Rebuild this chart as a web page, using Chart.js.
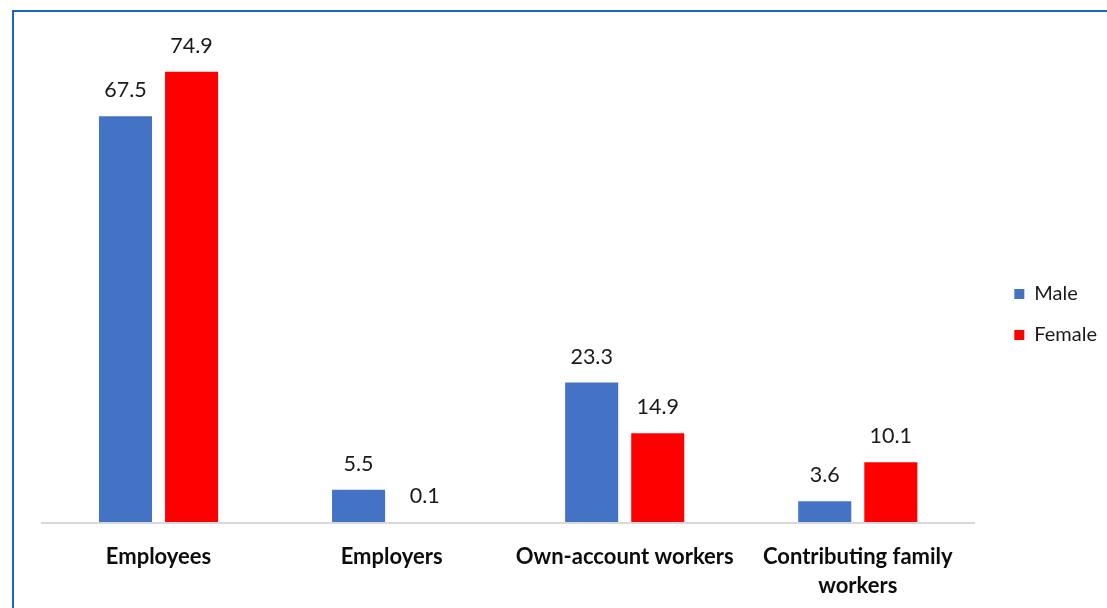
<!DOCTYPE html>
<html>
<head>
<meta charset="utf-8">
<script src="https://cdn.jsdelivr.net/npm/chart.js@4"></script>
<style>
  body { margin: 0; background: #fff; }
  #wrap { position: relative; width: 1107px; height: 608px; overflow: hidden; }
  #frame {
    position: absolute; left: 12px; top: 10px; width: 1200px; height: 700px;
    border-left: 2px solid #1767c9; border-top: 2px solid #1767c9;
  }
  #statusChart { position: relative; }
</style>
</head>
<body>
<div id="wrap">
  <div id="frame"></div>
  <canvas id="statusChart"></canvas>
</div>
<script>
const categories = ["Employees", "Employers", "Own-account workers", ["Contributing family", "workers"]];
const seriesNames = ["Male", "Female"];
const maleValues = [67.5, 5.5, 23.3, 3.6];
const femaleValues = [74.9, 0.1, 14.9, 10.1];

const fontFamily = "Lato, 'Open Sans', sans-serif";

// print each bar's value just above it
const valueLabels = {
  id: "valueLabels",
  afterDatasetsDraw(chart) {
    const ctx = chart.ctx;
    ctx.save();
    ctx.font = "21.5px " + fontFamily;
    ctx.fillStyle = "#1a1a1a";
    ctx.textAlign = "center";
    ctx.textBaseline = "middle";
    chart.data.datasets.forEach((ds, i) => {
      chart.getDatasetMeta(i).data.forEach((bar, j) => {
        ctx.fillText(ds.data[j].toFixed(1), bar.x, bar.y - 26);
      });
    });
    ctx.restore();
  }
};

// nudge the legend block up a little from dead centre
const legendNudge = {
  id: "legendNudge",
  afterLayout(chart) {
    if (chart.legend) {
      chart.legend.top -= 10;
      chart.legend.bottom -= 10;
    }
  }
};

new Chart(document.getElementById("statusChart"), {
  type: "bar",
  data: {
    labels: categories,
    datasets: [
      { label: seriesNames[0], data: maleValues, backgroundColor: "#4472c4" },
      { label: seriesNames[1], data: femaleValues, backgroundColor: "#ff0000" }
    ]
  },
  options: {
    responsive: true,
    maintainAspectRatio: false,
    animation: false,
    categoryPercentage: 0.567,
    barPercentage: 0.803,
    layout: { padding: { left: 42, top: 41, right: 0, bottom: 0 } },
    plugins: {
      legend: {
        position: "right",
        labels: {
          boxWidth: 10,
          boxHeight: 10,
          padding: 21,
          color: "#1a1a1a",
          font: { family: fontFamily, size: 20 }
        }
      },
      tooltip: { enabled: false }
    },
    scales: {
      x: {
        grid: { display: false },
        border: { color: "#d9d9d9", width: 2, z: 1 },
        ticks: {
          color: "#0d0d0d",
          padding: 11,
          maxRotation: 0,
          autoSkip: false,
          font: { family: fontFamily, size: 22, weight: "bold", lineHeight: 1.32 }
        },
        afterFit: (s) => { s.height = 85; }
      },
      y: {
        position: "right",
        min: 0,
        max: 80,
        grid: { display: false },
        border: { display: false },
        ticks: { display: false },
        afterFit: (s) => { s.width = 19; }
      }
    }
  },
  plugins: [valueLabels, legendNudge]
});
</script>
</body>
</html>
